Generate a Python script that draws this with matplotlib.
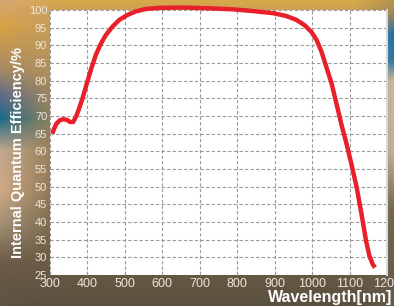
import numpy as np
import matplotlib
matplotlib.use('Agg')
import matplotlib.pyplot as plt
from matplotlib.colors import to_rgb

# curve
wavelength = [306, 311, 317, 326, 336, 345, 354, 362, 371, 379, 388, 397, 409, 422, 436, 449,
              467, 485, 507, 529, 556, 592, 654, 717, 788, 842, 896, 931, 958, 980, 998, 1012,
              1025, 1038, 1052, 1065, 1079, 1092, 1105, 1119, 1132, 1144, 1153, 1162, 1168]
efficiency = [65.0, 66.4, 67.8, 68.8, 69.1, 68.9, 68.3, 68.3, 70.2, 72.5, 75.4, 78.7, 83.0, 87.2,
              90.5, 92.9, 95.3, 97.2, 98.6, 99.6, 100.3, 100.6, 100.7, 100.5, 100.2, 99.7, 99.1,
              98.3, 97.2, 95.7, 93.8, 91.5, 88.2, 83.9, 79.2, 73.5, 67.3, 62.1, 56.4, 49.8, 42.2,
              34.7, 30.4, 28.0, 27.1]
x_ticks = list(range(300, 1201, 100))
y_ticks = list(range(25, 101, 5))

plt.rcParams['font.family'] = ['Liberation Sans', 'DejaVu Sans']

W, H = 394, 306
fig = plt.figure(figsize=(W / 100, H / 100), dpi=100)

# photo-like background: blend a left, middle and right colour column
left_stops = [(0, '#d6a876'), (25, '#d9a244'), (70, '#a48a66'), (95, '#5c6a88'),
              (118, '#1c6a8a'), (150, '#c4a88e'), (190, '#d0aa88'), (225, '#a08e76'),
              (260, '#6e5c48'), (306, '#5e5242')]
right_stops = [(0, '#b89650'), (12, '#a08858'), (35, '#1c6eae'), (60, '#2a78a8'),
               (80, '#c8b8a0'), (150, '#c2b29a'), (210, '#76664e'), (306, '#64584a')]
mid_stops = [(0, '#d8a846'), (12, '#c8a060'), (306, '#5a5040')]


def column(stops):
    ys = [s[0] for s in stops]
    cols = np.array([to_rgb(s[1]) for s in stops])
    yy = np.arange(H)
    return np.stack([np.interp(yy, ys, cols[:, k]) for k in range(3)], axis=1)


lc, mc, rc = column(left_stops), column(mid_stops), column(right_stops)
xx = np.arange(W) / (W - 1)
wl = np.clip(1 - xx / 0.15, 0, 1)[None, :, None]
wr = np.clip((xx - 0.9) / 0.1, 0, 1)[None, :, None]
wm = 1 - wl - wr
img = wl * lc[:, None, :] + wr * rc[:, None, :] + wm * mc[:, None, :]
bg = fig.add_axes([0, 0, 1, 1])
bg.imshow(img, aspect='auto', extent=(0, 1, 0, 1), origin='upper')
bg.axis('off')

ax = fig.add_axes([50 / W, 31 / H, 337 / W, 265 / H])
ax.set_facecolor('white')
ax.plot(wavelength, efficiency, color='#e8202a', lw=3.2, solid_capstyle='butt',
        solid_joinstyle='round', zorder=3, clip_on=False)
ax.set_xlim(300, 1200)
ax.set_ylim(25, 100)
ax.set_xticks(x_ticks)
ax.set_yticks(y_ticks)
ax.grid(True, color='#9a9a9a', lw=0.8, ls=(0, (3, 2)))
ax.tick_params(axis='x', direction='in', length=3, color='#999999', labelsize=9,
               labelcolor='#ece6dc', pad=2)
ax.tick_params(axis='y', length=0, labelsize=8, labelcolor='#ece6dc', pad=2)
for s in ax.spines.values():
    s.set_visible(False)
ax.spines['right'].set_visible(True)
ax.spines['right'].set_color('#d8d8d8')
ax.spines['right'].set_linewidth(1.5)

fig.text(18 / W, 0.5, 'Internal Quantum Efficiency/%', rotation=90, ha='center', va='center',
         color='white', fontsize=10.5, fontweight='bold')
fig.text(392 / W, 4 / H, 'Wavelength[nm]', ha='right', va='baseline', color='white',
         fontsize=11.5, fontweight='bold')

fig.savefig('out.png', dpi=100)
